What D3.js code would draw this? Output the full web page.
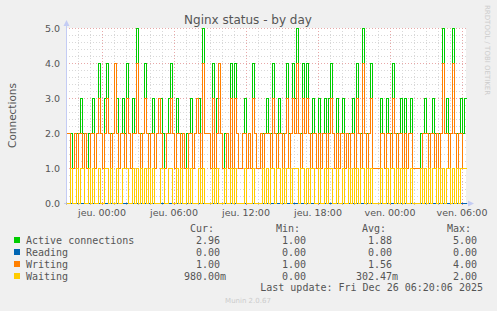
<!DOCTYPE html>
<html><head><meta charset="utf-8">
<script src="https://cdn.jsdelivr.net/npm/d3@7"></script>
<style>body{margin:0;background:#f0f0f0;}svg{display:block;}</style>
</head><body>
<script>
// ---- data (10-minute samples, Wed 21:00 -> Fri 06:20) ----
const seriesNames = ["Active connections", "Reading", "Writing", "Waiting"];
const active = [2,2,2,1,2,2,2,3,2,2,1,2,2,3,1,2,4,2,1,3,
  4,2,2,2,4,3,1,2,3,2,4,2,1,3,2,5,2,2,2,4,
  2,2,2,3,1,2,3,3,2,1,2,3,4,2,1,3,2,2,2,1,
  2,2,3,1,2,3,3,1,5,2,2,2,1,4,1,3,4,2,1,2,
  2,1,4,1,4,2,1,1,2,3,1,2,1,4,2,1,1,2,2,2,
  3,2,2,4,2,2,3,2,2,2,4,2,2,4,3,5,2,2,4,2,
  4,2,2,3,2,1,3,1,2,3,1,3,4,2,1,3,1,2,3,1,
  2,2,2,3,1,4,2,2,5,2,2,2,4,1,1,1,1,3,2,1,
  3,2,2,4,2,2,2,3,1,3,1,2,3,1,1,1,1,2,2,3,
  2,2,2,3,2,2,2,2,5,2,3,2,2,5,2,2,2,3,2,3];
const reading = [0,0,0,0,0,0,0,0,0,0,0,0,0,0,0,0,0,0,0,0,
  0,0,0,0,0,0,0,0,0,0,0,0,0,0,0,0,0,0,0,0,
  0,0,0,0,0,0,0,0,0,0,0,0,0,0,0,0,0,0,0,0,
  0,0,0,0,0,0,0,0,0,0,0,0,0,0,0,0,0,0,0,0,
  0,0,0,0,0,0,0,0,0,0,0,0,0,0,0,0,0,0,0,0,
  0,0,0,0,0,0,0,0,0,0,0,0,0,0,0,0,0,0,0,0,
  0,0,0,0,0,0,0,0,0,0,0,0,0,0,0,0,0,0,0,0,
  0,0,0,0,0,0,0,0,0,0,0,0,0,0,0,0,0,0,0,0,
  0,0,0,0,0,0,0,0,0,0,0,0,0,0,0,0,0,0,0,0,
  0,0,0,0,0,0,0,0,0,0,0,0,0,0,0,0,0,0,0,0];
const writing = [2,2,1,1,2,1,2,2,1,2,1,1,2,2,1,2,3,2,1,2,
  3,2,1,2,4,2,1,2,2,1,3,2,1,2,2,4,2,1,2,3,
  2,1,2,2,1,2,3,2,1,1,2,2,3,2,1,2,2,1,2,1,
  1,2,2,1,2,3,2,1,4,2,2,2,1,3,1,2,4,2,1,1,
  2,1,3,1,3,2,1,1,2,2,1,2,1,3,2,1,1,2,1,2,
  2,2,1,3,2,1,2,2,1,2,3,1,2,3,2,4,2,1,3,2,
  3,2,1,2,2,1,2,1,2,2,1,2,3,2,1,2,1,2,2,1,
  2,1,2,2,1,3,2,1,4,2,1,2,3,1,1,1,1,2,2,1,
  2,2,1,3,2,1,2,2,1,2,1,2,2,1,1,1,1,1,2,2,
  2,1,2,2,1,2,1,2,4,2,2,1,2,4,2,1,2,2,1,1];
const waiting = [0,0,1,0,0,1,0,1,1,0,0,1,0,1,0,0,1,0,0,1,
  1,0,1,0,0,1,0,0,1,1,1,0,0,1,0,1,0,1,0,1,
  0,1,0,1,0,0,0,1,1,0,0,1,1,0,0,1,0,1,0,0,
  1,0,1,0,0,0,1,0,1,0,0,0,0,1,0,1,0,0,0,1,
  0,0,1,0,1,0,0,0,0,1,0,0,0,1,0,0,0,0,1,0,
  1,0,1,1,0,1,1,0,1,0,1,1,0,1,1,1,0,1,1,0,
  1,0,1,1,0,0,1,0,0,1,0,1,1,0,0,1,0,0,1,0,
  0,1,0,1,0,1,0,1,1,0,1,0,1,0,0,0,0,1,0,0,
  1,0,1,1,0,1,0,1,0,1,0,0,1,0,0,0,0,1,0,1,
  0,1,0,1,1,0,1,0,1,0,1,1,0,1,0,1,0,1,1,1];
const yTickValues = [0, 1, 2, 3, 4, 5];
const yTickLabels = ["0.0", "1.0", "2.0", "3.0", "4.0", "5.0"];
const xTickLabels = ["jeu. 00:00", "jeu. 06:00", "jeu. 12:00", "jeu. 18:00", "ven. 00:00", "ven. 06:00"];
const legendCur = ["2.96", "0.00", "1.00", "980.00m"];
const legendMin = ["1.00", "0.00", "1.00", "0.00"];
const legendAvg = ["1.88", "0.00", "1.56", "302.47m"];
const legendMax = ["5.00", "0.00", "4.00", "2.00"];
const lastUpdate = "Last update: Fri Dec 26 06:20:06 2025";

// ---- styles ----
const colors = ["#00cc00", "#0066b3", "#ff8000", "#ffcc00"];
const W = 497, H = 311;
const L = 66, R = 466, T = 28, B = 203;

const svg = d3.select("body").append("svg").attr("width", W).attr("height", H);
svg.append("rect").attr("width", W).attr("height", H).attr("fill", "#f0f0f0");
svg.append("rect").attr("x", L).attr("y", T).attr("width", R - L).attr("height", B - T).attr("fill", "#ffffff");

const start = new Date(2025, 11, 24, 21, 0);
const end = new Date(2025, 11, 26, 6, 20);
const x = d3.scaleTime().domain([start, end]).range([L, R]);
const y = d3.scaleLinear().domain([0, 5]).range([B, T]);

const grid = svg.append("g");
d3.range(0, 25).filter(k => k % 5 !== 0).forEach(k => {
  const yy = Math.round(y(k / 5)) + 0.5;
  grid.append("line").attr("x1", L).attr("x2", R).attr("y1", yy).attr("y2", yy)
    .attr("stroke", "#d8d8d8").attr("stroke-dasharray", "1,2");
});
const hourTicks = x.ticks(d3.timeHour.every(1));
hourTicks.forEach(t => {
  if (t.getHours() % 6 === 0) return;
  const xx = Math.round(x(t)) + 0.5;
  grid.append("line").attr("x1", xx).attr("x2", xx).attr("y1", T).attr("y2", B)
    .attr("stroke", "#d8d8d8").attr("stroke-dasharray", "1,2");
});
yTickValues.forEach(v => {
  const yy = Math.round(y(v)) + 0.5;
  grid.append("line").attr("x1", L).attr("x2", R).attr("y1", yy).attr("y2", yy)
    .attr("stroke", "#e8a8a8").attr("stroke-dasharray", "1,2");
});
const majorTicks = x.ticks(d3.timeHour.every(6)).filter(t => t.getHours() % 6 === 0);
majorTicks.forEach(t => {
  const xx = Math.round(x(t)) + 0.5;
  grid.append("line").attr("x1", xx).attr("x2", xx).attr("y1", T).attr("y2", B)
    .attr("stroke", "#e8a8a8").attr("stroke-dasharray", "1,2");
});

// axes
const axisColor = "#c4ccf4";
svg.append("line").attr("x1", L + 0.5).attr("x2", L + 0.5).attr("y1", B + 2).attr("y2", T - 4).attr("stroke", axisColor);
svg.append("path").attr("d", `M${L - 2.5},${T - 2} L${L + 3.5},${T - 2} L${L + 0.5},${T - 8} Z`).attr("fill", axisColor);
svg.append("line").attr("x1", L - 2).attr("x2", R + 4).attr("y1", B + 0.5).attr("y2", B + 0.5).attr("stroke", axisColor);
svg.append("path").attr("d", `M${R + 2},${B - 2.5} L${R + 2},${B + 3.5} L${R + 8},${B + 0.5} Z`).attr("fill", axisColor);
hourTicks.forEach(t => {
  const xx = Math.round(x(t)) + 0.5;
  const major = t.getHours() % 6 === 0;
  svg.append("line").attr("x1", xx).attr("x2", xx).attr("y1", B - 1).attr("y2", B + 2)
    .attr("stroke", major ? "#e08080" : "#bbbbbb");
});

// series (pixel-aligned steps)
function seriesPoints(vals) {
  const pts = vals.map((v, i) => ({ t: d3.timeMinute.offset(start, 10 * i), v }));
  pts.push({ t: end, v: vals[vals.length - 1] });
  return pts;
}
const line = d3.line()
  .x(d => Math.round(x(d.t)) + 0.5)
  .y(d => Math.round(y(d.v)) + 0.5)
  .curve(d3.curveStepAfter);
const plotG = svg.append("g");
[active, reading, writing, waiting].forEach((vals, k) => {
  plotG.append("path").attr("d", line(seriesPoints(vals)))
    .attr("fill", "none").attr("stroke", colors[k]).attr("stroke-width", 1)
    .attr("shape-rendering", "crispEdges");
});

// tick labels
const labelColor = "#555555";
yTickValues.forEach((v, i) => {
  svg.append("text").attr("x", 60).attr("y", y(v) + 3.5).attr("text-anchor", "end")
    .attr("font-family", "DejaVu Sans").attr("font-size", 9.5).attr("fill", labelColor).text(yTickLabels[i]);
});
majorTicks.forEach((t, i) => {
  svg.append("text").attr("x", x(t)).attr("y", 216).attr("text-anchor", "middle")
    .attr("font-family", "DejaVu Sans").attr("font-size", 9.5).attr("fill", labelColor).text(xTickLabels[i]);
});

svg.append("text").attr("x", 248).attr("y", 24).attr("text-anchor", "middle")
  .attr("font-family", "DejaVu Sans").attr("font-size", 12).attr("fill", "#555555").text("Nginx status - by day");
svg.append("text").attr("transform", `translate(16,${(T + B) / 2}) rotate(-90)`).attr("text-anchor", "middle")
  .attr("font-family", "DejaVu Sans").attr("font-size", 10.5).attr("fill", "#555555").text("Connections");
svg.append("text").attr("transform", "translate(485,5) rotate(90)").attr("text-anchor", "start")
  .attr("font-family", "DejaVu Sans").attr("font-size", 7).attr("fill", "#cccccc").text("RRDTOOL / TOBI OETIKER");

// legend
const mono = "DejaVu Sans Mono";
const colEnds = [220, 306, 392, 477];
const headers = ["Cur:", "Min:", "Avg:", "Max:"];
headers.forEach((h, j) => {
  svg.append("text").attr("x", colEnds[j] - 6).attr("y", 232).attr("text-anchor", "end")
    .attr("font-family", mono).attr("font-size", 10).attr("fill", "#555555").text(h);
});
const cols = [legendCur, legendMin, legendAvg, legendMax];
seriesNames.forEach((name, k) => {
  const base = 243.5 + 12 * k;
  svg.append("rect").attr("x", 14).attr("y", base - 6.5).attr("width", 6).attr("height", 6).attr("fill", colors[k]);
  svg.append("text").attr("x", 26).attr("y", base).attr("font-family", mono).attr("font-size", 10)
    .attr("fill", "#555555").text(name);
  cols.forEach((c, j) => {
    const s = c[k];
    const hasUnit = /[a-zA-Z]$/.test(s);
    const num = hasUnit ? s.slice(0, -1) : s;
    svg.append("text").attr("x", colEnds[j]).attr("y", base).attr("text-anchor", "end")
      .attr("font-family", mono).attr("font-size", 10).attr("fill", "#555555").text(num);
    if (hasUnit) {
      svg.append("text").attr("x", colEnds[j]).attr("y", base).attr("text-anchor", "start")
        .attr("font-family", mono).attr("font-size", 10).attr("fill", "#555555").text(s.slice(-1));
    }
  });
});
svg.append("text").attr("x", 483).attr("y", 291).attr("text-anchor", "end")
  .attr("font-family", mono).attr("font-size", 10).attr("fill", "#555555").text(lastUpdate);
svg.append("text").attr("x", 248).attr("y", 302.5).attr("text-anchor", "middle")
  .attr("font-family", "DejaVu Sans").attr("font-size", 7).attr("fill", "#cccccc").text("Munin 2.0.67");
</script>
</body></html>
